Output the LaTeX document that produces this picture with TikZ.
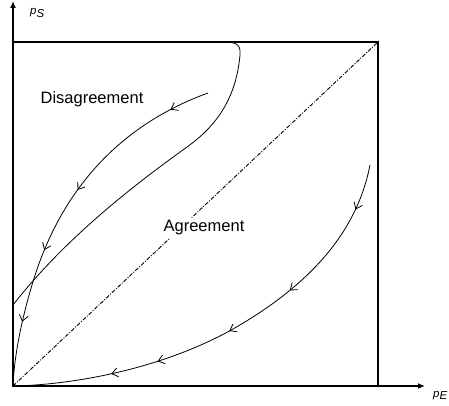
\documentclass[tikz,border=0pt]{standalone}
\usepackage{fontspec}
\setmainfont{Liberation Sans}
\usetikzlibrary{arrows.meta,decorations.markings}
\begin{document}
\begin{tikzpicture}[x=1pt,y=-1pt,
  axis/.style={line width=1.8pt,-{Latex[length=7pt,width=6pt]}},
  frame/.style={line width=1.1pt},
  curve/.style={line width=0.8pt},
  diag/.style={line width=0.9pt,dash pattern=on 4pt off 1.5pt on 1pt off 1.5pt},
  lbl/.style={font=\fontsize{16.5}{18}\selectfont, inner sep=0pt},
  axlbl/.style={font=\fontsize{11.5}{13}\selectfont\itshape, inner sep=0pt},
  >={Straight Barb[length=6pt,width=9pt]},
]
\useasboundingbox (0,0) rectangle (449,406);
\coordinate (O) at (13,386);
\coordinate (Ytip) at (13,1);
\coordinate (Xtip) at (425,386);
\coordinate (TL) at (13,42);
\coordinate (TR) at (378,42);
\coordinate (BR) at (378,386);

% frame
\draw[frame] (TL) -- (TR) -- (BR);
% diagonal
\draw[diag] (O) -- (TR);

% boundary curve
\coordinate (B0) at (13,305);
\coordinate (Bm) at (187,147);
\coordinate (Bc) at (240,55);
\coordinate (B1) at (223,42);
\draw[curve] (B0) .. controls (60,245) and (120,195) .. (Bm)
  .. controls (215,127) and (236,100) .. (Bc)
  .. controls (241,44) and (236,42) .. (B1);

% trajectory in disagreement region
\coordinate (T1s) at (208,93);
\coordinate (T1m) at (32,285);
\draw[curve,postaction={decorate},decoration={markings,
    mark=at position 41pt with {\arrow{>}},
    mark=at position 165pt with {\arrow{>}},
    mark=at position 234pt with {\arrow{>}},
    mark=at position 309pt with {\arrow{>}}}]
  (T1s) .. controls (120,125) and (60,190) .. (T1m)
  .. controls (20,325) and (14,360) .. (O);

% trajectory in agreement region
\coordinate (T2s) at (370,165);
\coordinate (T2m) at (233,329);
\draw[curve,postaction={decorate},decoration={markings,
    mark=at position 47pt with {\arrow{>}},
    mark=at position 152pt with {\arrow{>}},
    mark=at position 225pt with {\arrow{>}},
    mark=at position 303pt with {\arrow{>}},
    mark=at position 351pt with {\arrow{>}}}]
  (T2s) .. controls (357,232) and (310,285) .. (T2m)
  .. controls (160,370) and (70,385) .. (O);

% axes
\draw[axis] ([yshift=1pt]O) -- (Ytip);
\draw[axis] ([xshift=-1pt]O) -- (Xtip);

% labels
\node[lbl,fill=white,inner sep=3pt] (agr) at (204,228) {Agreement};
\node[lbl] (dis) at (92,99) {Disagreement};
\node[axlbl,anchor=base west] (ps) at (30,15) {p\raisebox{-2.5pt}{S}};
\node[axlbl,anchor=base west] (pe) at (433,397) {p\raisebox{-2.5pt}{E}};
\end{tikzpicture}
\end{document}
